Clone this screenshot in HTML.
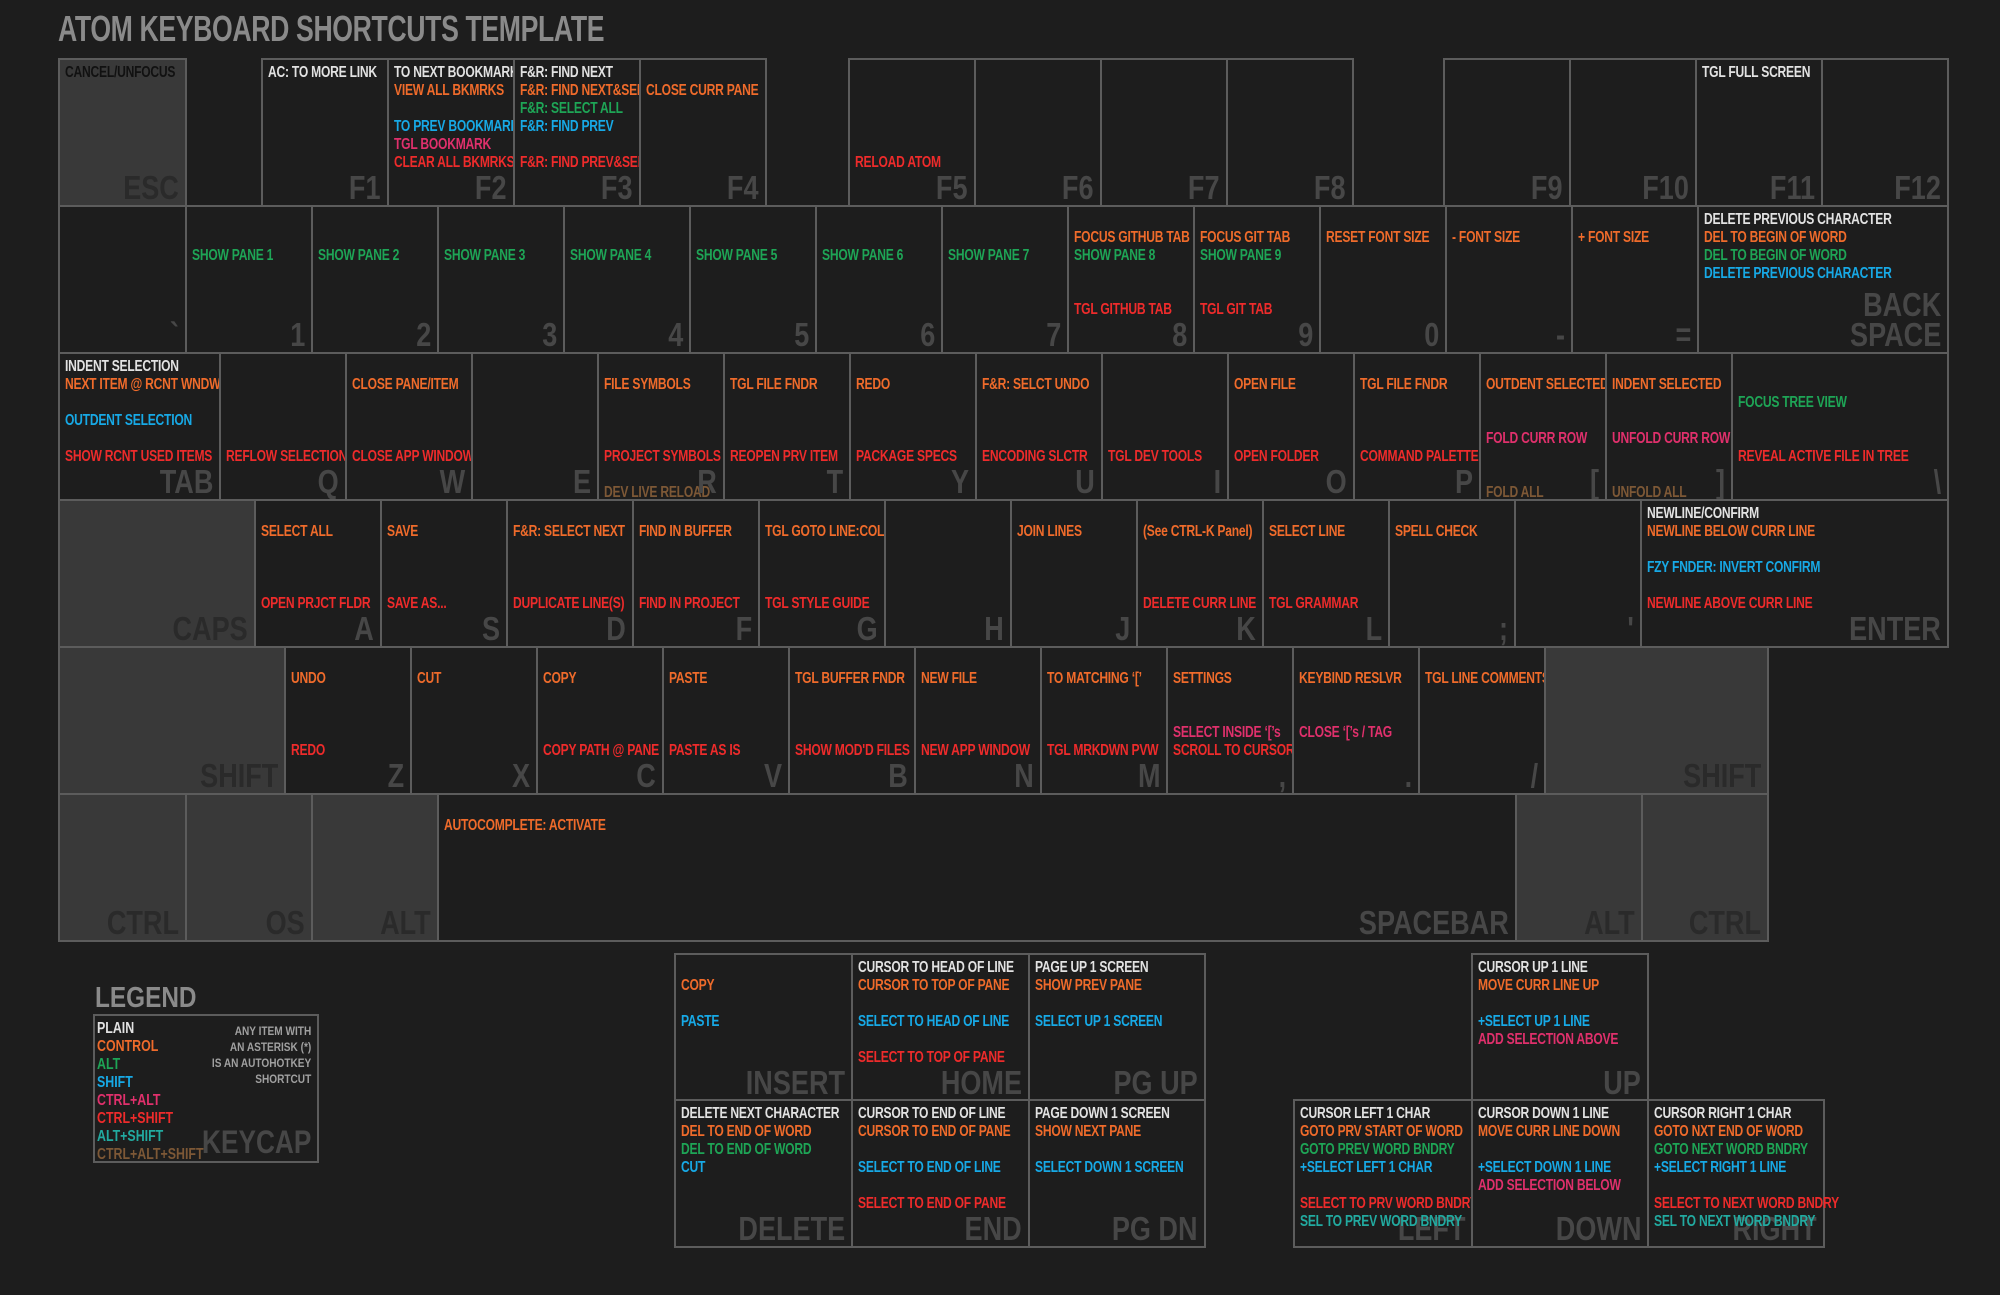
<!DOCTYPE html>
<html><head><meta charset="utf-8">
<style>
*{margin:0;padding:0;box-sizing:border-box}
body{width:2000px;height:1295px;background:#1d1d1d;position:relative;overflow:hidden;font-family:"Liberation Sans Narrow","Liberation Sans",sans-serif;font-weight:bold}
.t{position:absolute;left:58px;top:8px;font-size:36px;color:#8a8a8a;letter-spacing:-0.5px;transform:scaleX(0.74);transform-origin:left top;white-space:nowrap}
.k{position:absolute;border:2px solid #5c5c5c;background:#1d1d1d;height:149px}
.g{background:#393939}
.k p{position:absolute;left:5px;font-size:15.5px;line-height:18px;white-space:nowrap;letter-spacing:-0.3px;transform:scaleX(0.78);transform-origin:left top}
.k b{position:absolute;right:6px;bottom:2px;font-size:33px;line-height:30px;color:#474747;text-align:right;transform:scaleX(0.82);transform-origin:right bottom;white-space:nowrap}
.g b{color:#2a2a2a}
.s0{top:4px;color:#e2e2e2}.s1{top:22px;color:#ef6b2b}.s2{top:40px;color:#1ea556}.s3{top:58px;color:#17a9e6}
.s4{top:76px;color:#e0306c}.s5{top:94px;color:#ee2b2b}.s6{top:112px;color:#22aaa0}.s7{top:130px;color:#7d5836}
.g .s0{color:#111}
.lg{position:absolute;left:95px;top:982px;font-size:29px;color:#8a8a8a;transform:scaleX(0.84);transform-origin:left top}
.lb{position:absolute;left:93px;top:1014px;width:226px;height:149px;border:2px solid #5c5c5c}
.lb p{position:absolute;left:2px;font-size:15.5px;line-height:18px;white-space:nowrap;transform:scaleX(0.8);transform-origin:left top}
.lb .n{position:absolute;right:6px;top:7px;font-size:12px;line-height:16px;color:#a0a0a0;text-align:right;transform:scaleX(0.84);transform-origin:right top;white-space:nowrap}
.lb b{position:absolute;right:6px;bottom:4px;font-size:32px;line-height:30px;color:#474747;transform:scaleX(0.82);transform-origin:right bottom}
</style></head><body>
<div class="t">ATOM KEYBOARD SHORTCUTS TEMPLATE</div>

<div class="k g" style="left:58px;top:58px;width:129px"><p class="s0">CANCEL/UNFOCUS</p><b>ESC</b></div>
<div class="k" style="left:261px;top:58px;width:128px"><p class="s0">AC: TO MORE LINK</p><b>F1</b></div>
<div class="k" style="left:387px;top:58px;width:128px"><p class="s0">TO NEXT BOOKMARK</p><p class="s1">VIEW ALL BKMRKS</p><p class="s3">TO PREV BOOKMARK</p><p class="s4">TGL BOOKMARK</p><p class="s5">CLEAR ALL BKMRKS</p><b>F2</b></div>
<div class="k" style="left:513px;top:58px;width:128px"><p class="s0">F&amp;R: FIND NEXT</p><p class="s1">F&amp;R: FIND NEXT&amp;SEL</p><p class="s2">F&amp;R: SELECT ALL</p><p class="s3">F&amp;R: FIND PREV</p><p class="s5">F&amp;R: FIND PREV&amp;SEL</p><b>F3</b></div>
<div class="k" style="left:639px;top:58px;width:128px"><p class="s1">CLOSE CURR PANE</p><b>F4</b></div>
<div class="k" style="left:848px;top:58px;width:128px"><p class="s5">RELOAD ATOM</p><b>F5</b></div>
<div class="k" style="left:974px;top:58px;width:128px"><b>F6</b></div>
<div class="k" style="left:1100px;top:58px;width:128px"><b>F7</b></div>
<div class="k" style="left:1226px;top:58px;width:128px"><b>F8</b></div>
<div class="k" style="left:1443px;top:58px;width:128px"><b>F9</b></div>
<div class="k" style="left:1569px;top:58px;width:128px"><b>F10</b></div>
<div class="k" style="left:1695px;top:58px;width:128px"><p class="s0">TGL FULL SCREEN</p><b>F11</b></div>
<div class="k" style="left:1821px;top:58px;width:128px"><b>F12</b></div>

<div class="k" style="left:58px;top:205px;width:129px"><b>`</b></div>
<div class="k" style="left:185px;top:205px;width:128px"><p class="s2">SHOW PANE 1</p><b>1</b></div>
<div class="k" style="left:311px;top:205px;width:128px"><p class="s2">SHOW PANE 2</p><b>2</b></div>
<div class="k" style="left:437px;top:205px;width:128px"><p class="s2">SHOW PANE 3</p><b>3</b></div>
<div class="k" style="left:563px;top:205px;width:128px"><p class="s2">SHOW PANE 4</p><b>4</b></div>
<div class="k" style="left:689px;top:205px;width:128px"><p class="s2">SHOW PANE 5</p><b>5</b></div>
<div class="k" style="left:815px;top:205px;width:128px"><p class="s2">SHOW PANE 6</p><b>6</b></div>
<div class="k" style="left:941px;top:205px;width:128px"><p class="s2">SHOW PANE 7</p><b>7</b></div>
<div class="k" style="left:1067px;top:205px;width:128px"><p class="s1">FOCUS GITHUB TAB</p><p class="s2">SHOW PANE 8</p><p class="s5">TGL GITHUB TAB</p><b>8</b></div>
<div class="k" style="left:1193px;top:205px;width:128px"><p class="s1">FOCUS GIT TAB</p><p class="s2">SHOW PANE 9</p><p class="s5">TGL GIT TAB</p><b>9</b></div>
<div class="k" style="left:1319px;top:205px;width:128px"><p class="s1">RESET FONT SIZE</p><b>0</b></div>
<div class="k" style="left:1445px;top:205px;width:128px"><p class="s1">- FONT SIZE</p><b>-</b></div>
<div class="k" style="left:1571px;top:205px;width:128px"><p class="s1">+ FONT SIZE</p><b>=</b></div>
<div class="k" style="left:1697px;top:205px;width:252px"><p class="s0">DELETE PREVIOUS CHARACTER</p><p class="s1">DEL TO BEGIN OF WORD</p><p class="s2">DEL TO BEGIN OF WORD</p><p class="s3">DELETE PREVIOUS CHARACTER</p><b>BACK<br>SPACE</b></div>

<div class="k" style="left:58px;top:352px;width:163px"><p class="s0">INDENT SELECTION</p><p class="s1">NEXT ITEM @ RCNT WNDW</p><p class="s3">OUTDENT SELECTION</p><p class="s5">SHOW RCNT USED ITEMS</p><b>TAB</b></div>
<div class="k" style="left:219px;top:352px;width:128px"><p class="s5">REFLOW SELECTION</p><b>Q</b></div>
<div class="k" style="left:345px;top:352px;width:128px"><p class="s1">CLOSE PANE/ITEM</p><p class="s5">CLOSE APP WINDOW</p><b>W</b></div>
<div class="k" style="left:471px;top:352px;width:128px"><b>E</b></div>
<div class="k" style="left:597px;top:352px;width:128px"><p class="s1">FILE SYMBOLS</p><p class="s5">PROJECT SYMBOLS</p><p class="s7">DEV LIVE RELOAD</p><b>R</b></div>
<div class="k" style="left:723px;top:352px;width:128px"><p class="s1">TGL FILE FNDR</p><p class="s5">REOPEN PRV ITEM</p><b>T</b></div>
<div class="k" style="left:849px;top:352px;width:128px"><p class="s1">REDO</p><p class="s5">PACKAGE SPECS</p><b>Y</b></div>
<div class="k" style="left:975px;top:352px;width:128px"><p class="s1">F&amp;R: SELCT UNDO</p><p class="s5">ENCODING SLCTR</p><b>U</b></div>
<div class="k" style="left:1101px;top:352px;width:128px"><p class="s5">TGL DEV TOOLS</p><b>I</b></div>
<div class="k" style="left:1227px;top:352px;width:128px"><p class="s1">OPEN FILE</p><p class="s5">OPEN FOLDER</p><b>O</b></div>
<div class="k" style="left:1353px;top:352px;width:128px"><p class="s1">TGL FILE FNDR</p><p class="s5">COMMAND PALETTE</p><b>P</b></div>
<div class="k" style="left:1479px;top:352px;width:128px"><p class="s1">OUTDENT SELECTED</p><p class="s4">FOLD CURR ROW</p><p class="s7">FOLD ALL</p><b>[</b></div>
<div class="k" style="left:1605px;top:352px;width:128px"><p class="s1">INDENT SELECTED</p><p class="s4">UNFOLD CURR ROW</p><p class="s7">UNFOLD ALL</p><b>]</b></div>
<div class="k" style="left:1731px;top:352px;width:218px"><p class="s2">FOCUS TREE VIEW</p><p class="s5">REVEAL ACTIVE FILE IN TREE</p><b>\</b></div>

<div class="k g" style="left:58px;top:499px;width:198px"><b>CAPS</b></div>
<div class="k" style="left:254px;top:499px;width:128px"><p class="s1">SELECT ALL</p><p class="s5">OPEN PRJCT FLDR</p><b>A</b></div>
<div class="k" style="left:380px;top:499px;width:128px"><p class="s1">SAVE</p><p class="s5">SAVE AS...</p><b>S</b></div>
<div class="k" style="left:506px;top:499px;width:128px"><p class="s1">F&amp;R: SELECT NEXT</p><p class="s5">DUPLICATE LINE(S)</p><b>D</b></div>
<div class="k" style="left:632px;top:499px;width:128px"><p class="s1">FIND IN BUFFER</p><p class="s5">FIND IN PROJECT</p><b>F</b></div>
<div class="k" style="left:758px;top:499px;width:128px"><p class="s1">TGL GOTO LINE:COL</p><p class="s5">TGL STYLE GUIDE</p><b>G</b></div>
<div class="k" style="left:884px;top:499px;width:128px"><b>H</b></div>
<div class="k" style="left:1010px;top:499px;width:128px"><p class="s1">JOIN LINES</p><b>J</b></div>
<div class="k" style="left:1136px;top:499px;width:128px"><p class="s1">(See CTRL-K Panel)</p><p class="s5">DELETE CURR LINE</p><b>K</b></div>
<div class="k" style="left:1262px;top:499px;width:128px"><p class="s1">SELECT LINE</p><p class="s5">TGL GRAMMAR</p><b>L</b></div>
<div class="k" style="left:1388px;top:499px;width:128px"><p class="s1">SPELL CHECK</p><b>;</b></div>
<div class="k" style="left:1514px;top:499px;width:128px"><b>'</b></div>
<div class="k" style="left:1640px;top:499px;width:309px"><p class="s0">NEWLINE/CONFIRM</p><p class="s1">NEWLINE BELOW CURR LINE</p><p class="s3">FZY FNDER: INVERT CONFIRM</p><p class="s5">NEWLINE ABOVE CURR LINE</p><b>ENTER</b></div>

<div class="k g" style="left:58px;top:646px;width:228px"><b>SHIFT</b></div>
<div class="k" style="left:284px;top:646px;width:128px"><p class="s1">UNDO</p><p class="s5">REDO</p><b>Z</b></div>
<div class="k" style="left:410px;top:646px;width:128px"><p class="s1">CUT</p><b>X</b></div>
<div class="k" style="left:536px;top:646px;width:128px"><p class="s1">COPY</p><p class="s5">COPY PATH @ PANE</p><b>C</b></div>
<div class="k" style="left:662px;top:646px;width:128px"><p class="s1">PASTE</p><p class="s5">PASTE AS IS</p><b>V</b></div>
<div class="k" style="left:788px;top:646px;width:128px"><p class="s1">TGL BUFFER FNDR</p><p class="s5">SHOW MOD'D FILES</p><b>B</b></div>
<div class="k" style="left:914px;top:646px;width:128px"><p class="s1">NEW FILE</p><p class="s5">NEW APP WINDOW</p><b>N</b></div>
<div class="k" style="left:1040px;top:646px;width:128px"><p class="s1">TO MATCHING ‘[’</p><p class="s5">TGL MRKDWN PVW</p><b>M</b></div>
<div class="k" style="left:1166px;top:646px;width:128px"><p class="s1">SETTINGS</p><p class="s4">SELECT INSIDE ‘[’s</p><p class="s5">SCROLL TO CURSOR</p><b>,</b></div>
<div class="k" style="left:1292px;top:646px;width:128px"><p class="s1">KEYBIND RESLVR</p><p class="s4">CLOSE ‘[’s / TAG</p><b>.</b></div>
<div class="k" style="left:1418px;top:646px;width:128px"><p class="s1">TGL LINE COMMENTS</p><b>/</b></div>
<div class="k g" style="left:1544px;top:646px;width:225px"><b>SHIFT</b></div>

<div class="k g" style="left:58px;top:793px;width:129px"><b>CTRL</b></div>
<div class="k g" style="left:185px;top:793px;width:128px"><b>OS</b></div>
<div class="k g" style="left:311px;top:793px;width:128px"><b>ALT</b></div>
<div class="k" style="left:437px;top:793px;width:1080px"><p class="s1">AUTOCOMPLETE: ACTIVATE</p><b>SPACEBAR</b></div>
<div class="k g" style="left:1515px;top:793px;width:128px"><b>ALT</b></div>
<div class="k g" style="left:1641px;top:793px;width:128px"><b>CTRL</b></div>

<div class="k" style="left:674px;top:953px;width:179px"><p class="s1">COPY</p><p class="s3">PASTE</p><b>INSERT</b></div>
<div class="k" style="left:851px;top:953px;width:179px"><p class="s0">CURSOR TO HEAD OF LINE</p><p class="s1">CURSOR TO TOP OF PANE</p><p class="s3">SELECT TO HEAD OF LINE</p><p class="s5">SELECT TO TOP OF PANE</p><b>HOME</b></div>
<div class="k" style="left:1028px;top:953px;width:178px"><p class="s0">PAGE UP 1 SCREEN</p><p class="s1">SHOW PREV PANE</p><p class="s3">SELECT UP 1 SCREEN</p><b>PG UP</b></div>
<div class="k" style="left:674px;top:1099px;width:179px"><p class="s0">DELETE NEXT CHARACTER</p><p class="s1">DEL TO END OF WORD</p><p class="s2">DEL TO END OF WORD</p><p class="s3">CUT</p><b>DELETE</b></div>
<div class="k" style="left:851px;top:1099px;width:179px"><p class="s0">CURSOR TO END OF LINE</p><p class="s1">CURSOR TO END OF PANE</p><p class="s3">SELECT TO END OF LINE</p><p class="s5">SELECT TO END OF PANE</p><b>END</b></div>
<div class="k" style="left:1028px;top:1099px;width:178px"><p class="s0">PAGE DOWN 1 SCREEN</p><p class="s1">SHOW NEXT PANE</p><p class="s3">SELECT DOWN 1 SCREEN</p><b>PG DN</b></div>

<div class="k" style="left:1471px;top:953px;width:178px"><p class="s0">CURSOR UP 1 LINE</p><p class="s1">MOVE CURR LINE UP</p><p class="s3">+SELECT UP 1 LINE</p><p class="s4">ADD SELECTION ABOVE</p><b>UP</b></div>
<div class="k" style="left:1293px;top:1099px;width:180px"><b>LEFT</b><p class="s0">CURSOR LEFT 1 CHAR</p><p class="s1">GOTO PRV START OF WORD</p><p class="s2">GOTO PREV WORD BNDRY</p><p class="s3">+SELECT LEFT 1 CHAR</p><p class="s5">SELECT TO PRV WORD BNDRY</p><p class="s6">SEL TO PREV WORD BNDRY</p></div>
<div class="k" style="left:1471px;top:1099px;width:178px"><b>DOWN</b><p class="s0">CURSOR DOWN 1 LINE</p><p class="s1">MOVE CURR LINE DOWN</p><p class="s3">+SELECT DOWN 1 LINE</p><p class="s4">ADD SELECTION BELOW</p></div>
<div class="k" style="left:1647px;top:1099px;width:178px"><b>RIGHT</b><p class="s0">CURSOR RIGHT 1 CHAR</p><p class="s1">GOTO NXT END OF WORD</p><p class="s2">GOTO NEXT WORD BNDRY</p><p class="s3">+SELECT RIGHT 1 LINE</p><p class="s5">SELECT TO NEXT WORD BNDRY</p><p class="s6">SEL TO NEXT WORD BNDRY</p></div>

<div class="lg">LEGEND</div>
<div class="lb">
<p style="top:4px;color:#e2e2e2">PLAIN</p>
<p style="top:22px;color:#ef6b2b">CONTROL</p>
<p style="top:40px;color:#1ea556">ALT</p>
<p style="top:58px;color:#17a9e6">SHIFT</p>
<p style="top:76px;color:#e0306c">CTRL+ALT</p>
<p style="top:94px;color:#ee2b2b">CTRL+SHIFT</p>
<p style="top:112px;color:#22aaa0">ALT+SHIFT</p>
<p style="top:130px;color:#7d5836">CTRL+ALT+SHIFT</p>
<div class="n">ANY ITEM WITH<br>AN ASTERISK (*)<br>IS AN AUTOHOTKEY<br>SHORTCUT</div>
<b>KEYCAP</b>
</div>
</body></html>
